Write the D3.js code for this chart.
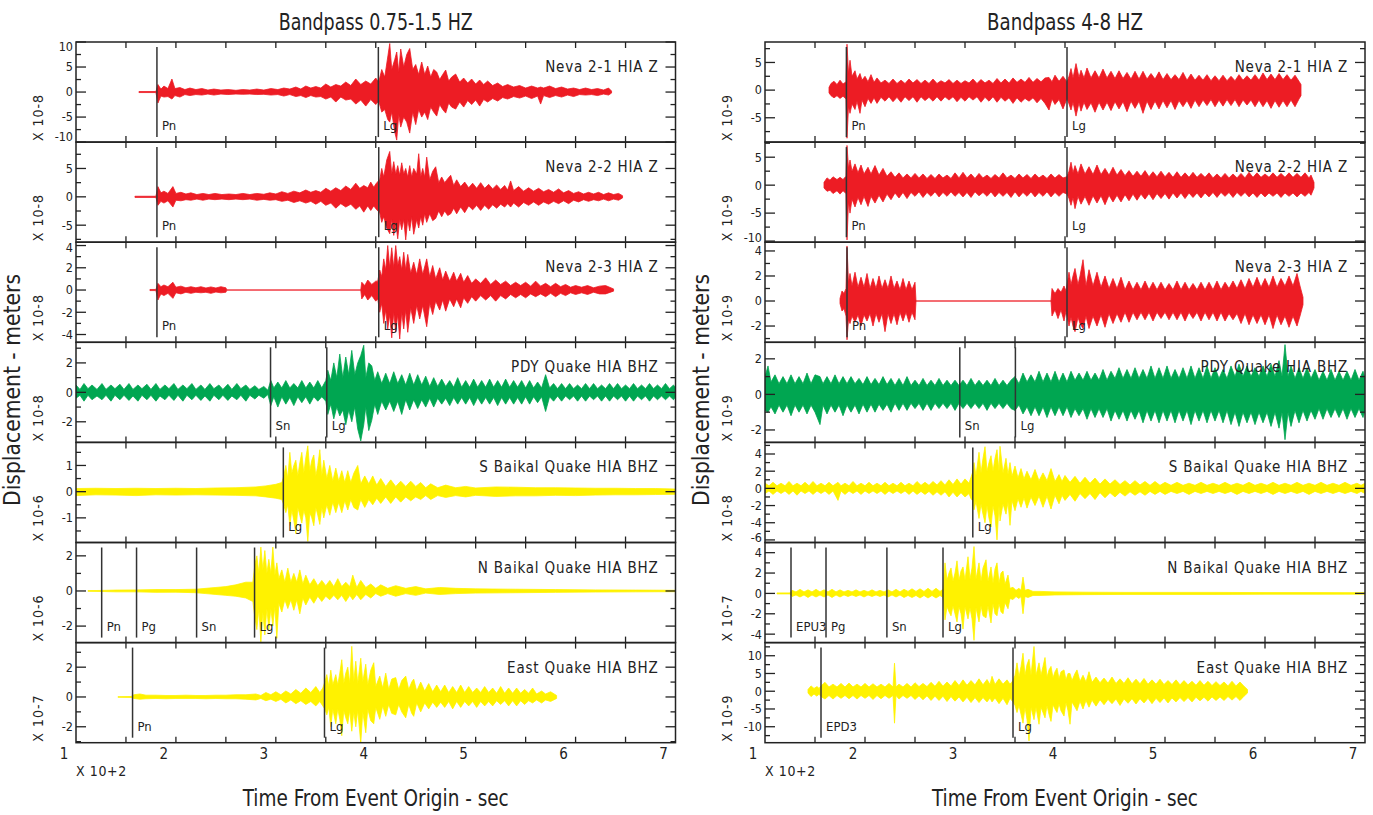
<!DOCTYPE html>
<html>
<head>
<meta charset="utf-8">
<script src="https://cdn.jsdelivr.net/npm/d3@7"></script>
<style>
    body { margin: 0; background: #fff; }
    text { font-family: "Liberation Sans Narrow", "DejaVu Sans Condensed", sans-serif; fill: #222; }
</style>
</head>
<body>
<svg id="chart" width="1373" height="815"></svg>
<script>
// ---- chart values ----
const bandTitles = ["Bandpass 0.75-1.5 HZ", "Bandpass 4-8 HZ"];
const xTitle = "Time From Event Origin - sec";
const yTitle = "Displacement  -  meters";
const xMultiplier = "X 10+2";
const timeDomain = [100, 700];
const timeLabels = [[100, "1"], [200, "2"], [300, "3"], [400, "4"], [500, "5"], [600, "6"], [700, "7"]];

const stationLabels = ["Neva 2-1 HIA Z", "Neva 2-2 HIA Z", "Neva 2-3 HIA Z", "PDY Quake HIA BHZ",
    "S Baikal Quake HIA BHZ", "N Baikal Quake HIA BHZ", "East Quake HIA BHZ"];
const stationKind = ["nuke", "nuke", "nuke", "pdy", "quake", "quake", "quake"];

const lowExponents = ["10-8", "10-8", "10-8", "10-8", "10-6", "10-6", "10-7"];
const highExponents = ["10-9", "10-9", "10-9", "10-9", "10-8", "10-7", "10-9"];
const lowDomains = [[-10, 10], [-8, 9.65], [-4.7, 4.3], [-3.4, 3.4], [-1.94, 1.88], [-2.94, 2.76], [-3.07, 3.65]];
const highDomains = [[-9.4, 8.7], [-10.2, 7.7], [-3.3, 4.7], [-2.7, 2.93], [-6.3, 5.35], [-4.83, 5.0], [-14.5, 13.7]];
const lowTickSteps = [5, 5, 2, 2, 1, 2, 2];
const highTickSteps = [5, 5, 2, 2, 2, 2, 5];

const lowPhases = [
    [["Pn", 181], ["Lg", 402.6]],
    [["Pn", 181], ["Lg", 403]],
    [["Pn", 181], ["Lg", 403]],
    [["Sn", 294.7], ["Lg", 351]],
    [["Lg", 307.5]],
    [["Pn", 125.7], ["Pg", 160.6], ["Sn", 220.7], ["Lg", 278.7]],
    [["Pn", 156.6], ["Lg", 348.7]]
];
const highPhases = [
    [["Pn", 181.4], ["Lg", 402]],
    [["Pn", 181.4], ["Lg", 402]],
    [["Pn", 182], ["Lg", 402]],
    [["Sn", 294.8], ["Lg", 350.4]],
    [["Lg", 307.8]],
    [["EPU3", 126], ["Pg", 161], ["Sn", 221.9], ["Lg", 278]],
    [["EPD3", 156], ["Lg", 348]]
];

// traces: [time sec, upper peak, lower peak] in the panel's units
const neva21Low = [[163,0.1,-0.1],[180,0.1,-0.1],[182,1.5,-2.2],[185,0.6,-0.8],[188,1.2,-1.0],[192,0.7,-0.9],[196,2.6,-1.4],[199,0.7,-0.7],[204,0.9,-1.0],[209,0.5,-0.5],[214,0.8,-0.7],[220,0.5,-0.5],[226,0.7,-0.6],[232,0.4,-0.4],[238,0.6,-0.6],[245,0.4,-0.4],[252,0.5,-0.5],[260,0.35,-0.4],[267,0.5,-0.45],[274,0.4,-0.4],[281,0.6,-0.5],[288,0.4,-0.45],[295,0.7,-0.6],[302,0.5,-0.5],[308,0.8,-0.8],[314,0.6,-0.5],[320,1.0,-0.9],[325,0.6,-0.7],[330,1.2,-1.1],[335,0.8,-0.7],[340,1.1,-1.0],[345,0.8,-0.9],[350,1.6,-1.4],[355,1.0,-1.0],[360,1.5,-2.0],[365,1.2,-1.0],[370,2.0,-1.6],[375,1.3,-1.4],[380,2.6,-2.4],[385,1.5,-1.6],[390,2.2,-2.8],[395,1.6,-1.5],[400,2.8,-2.5],[403,2.0,-1.8],[406,4.5,-4.0],[409,3.0,-3.5],[412,7.0,-5.5],[414,9.7,-6.0],[416,4.5,-4.0],[419,6.5,-8.0],[421,8.0,-9.6],[423,4.0,-4.5],[425,8.6,-7.0],[428,5.0,-5.0],[431,7.5,-6.0],[434,8.7,-8.2],[437,4.5,-4.0],[440,5.5,-6.5],[443,3.5,-3.5],[446,6.0,-5.0],[449,3.5,-4.0],[452,5.2,-5.5],[455,3.0,-3.0],[458,4.5,-4.0],[461,4.0,-4.8],[464,2.5,-2.5],[467,3.5,-3.5],[470,4.4,-4.2],[473,2.2,-2.2],[476,3.0,-3.0],[480,3.6,-3.4],[484,2.0,-2.0],[488,2.8,-3.0],[492,1.8,-1.7],[496,2.6,-2.5],[500,1.6,-1.6],[504,2.4,-2.8],[508,1.5,-1.5],[512,2.2,-2.0],[517,1.3,-1.3],[522,1.8,-1.8],[527,1.1,-1.1],[532,1.5,-1.4],[538,1.0,-0.9],[544,1.3,-1.2],[550,0.8,-0.8],[556,1.2,-1.3],[562,0.8,-0.8],[565,1.0,-2.4],[568,0.8,-0.7],[574,1.2,-1.1],[580,0.7,-0.7],[586,1.0,-1.0],[592,0.6,-0.6],[598,0.8,-0.9],[604,0.5,-0.5],[610,0.8,-0.6],[616,0.5,-0.5],[622,0.7,-0.7],[628,0.4,-0.4],[633,0.8,-0.6],[636,0.2,-0.2]];
const neva22Low = [[159,0.1,-0.1],[180,0.1,-0.1],[182,1.8,-1.5],[185,0.7,-0.8],[188,1.0,-1.1],[192,0.6,-0.7],[197,1.8,-1.8],[200,0.6,-0.6],[205,0.8,-0.7],[210,0.5,-0.5],[215,0.7,-0.6],[221,0.4,-0.4],[227,0.6,-0.6],[233,0.4,-0.4],[239,0.6,-0.5],[246,0.4,-0.4],[253,0.5,-0.5],[260,0.4,-0.4],[267,0.6,-0.5],[274,0.4,-0.4],[281,0.6,-0.6],[288,0.45,-0.45],[294,0.7,-0.6],[300,0.5,-0.5],[306,0.9,-0.8],[312,0.6,-0.6],[318,1.0,-1.0],[324,0.7,-0.7],[330,1.2,-1.1],[335,0.8,-0.8],[340,1.1,-1.3],[345,0.8,-0.8],[350,1.5,-1.5],[355,1.0,-1.1],[360,1.6,-2.0],[365,1.1,-1.2],[370,1.9,-1.8],[375,1.3,-1.3],[380,2.4,-2.2],[384,1.5,-1.6],[388,2.0,-2.7],[392,1.6,-1.6],[395,2.6,-2.4],[398,1.7,-1.6],[401,2.5,-2.3],[404,3.0,-2.8],[406,5.0,-4.5],[408,3.5,-3.5],[411,6.5,-5.5],[414,8.0,-6.5],[416,4.0,-4.0],[418,6.2,-6.8],[420,4.0,-4.5],[422,5.5,-7.4],[424,3.8,-4.0],[426,6.0,-5.8],[428,4.0,-4.0],[430,5.0,-7.6],[432,3.5,-4.0],[434,5.5,-6.0],[436,3.5,-3.5],[438,5.0,-6.6],[441,4.0,-4.0],[443,7.6,-5.5],[445,3.5,-3.5],[447,5.0,-5.0],[449,3.5,-3.0],[451,7.0,-4.5],[454,3.0,-3.0],[457,4.5,-4.2],[460,5.3,-3.8],[463,2.5,-2.5],[466,3.5,-3.5],[469,2.5,-2.5],[472,3.2,-3.3],[475,3.8,-3.0],[478,2.0,-2.0],[481,3.0,-3.0],[485,1.8,-1.8],[489,2.6,-2.8],[493,1.6,-1.6],[497,2.4,-2.3],[501,1.5,-1.5],[505,2.5,-2.4],[509,1.5,-1.5],[513,2.2,-2.2],[517,1.4,-1.4],[521,2.1,-2.0],[525,1.3,-1.3],[529,2.0,-1.8],[532,1.2,-1.2],[535,2.8,-1.8],[538,1.1,-1.1],[543,1.8,-1.8],[548,1.0,-1.0],[553,1.6,-1.5],[558,1.0,-0.9],[563,1.5,-1.5],[568,0.9,-0.9],[573,1.3,-1.3],[578,0.8,-0.8],[583,1.4,-1.2],[588,0.7,-0.7],[593,1.1,-1.2],[598,0.6,-0.6],[603,0.9,-0.9],[608,0.5,-0.5],[613,0.8,-0.8],[618,0.5,-0.5],[623,0.8,-0.7],[628,0.4,-0.4],[633,0.7,-0.7],[638,0.4,-0.4],[643,0.6,-0.6],[647,0.2,-0.2]];
const neva23Low = [[174,0.05,-0.05],[180,0.05,-0.05],[182,0.6,-0.9],[185,0.3,-0.35],[188,0.45,-0.5],[192,0.3,-0.3],[197,0.7,-0.75],[200,0.25,-0.25],[205,0.35,-0.35],[210,0.2,-0.2],[215,0.3,-0.3],[220,0.2,-0.2],[225,0.3,-0.25],[230,0.18,-0.2],[235,0.28,-0.3],[240,0.18,-0.18],[245,0.3,-0.25],[250,0.2,-0.2],[251,0,0],[385,0,0],[386,0.7,-0.8],[389,0.4,-0.4],[392,0.9,-0.9],[396,0.5,-0.5],[400,0.8,-1.0],[402,0.8,-0.8],[404,1.8,-2.0],[406,1.2,-1.2],[408,2.8,-3.0],[410,1.8,-1.8],[412,4.0,-3.5],[414,2.0,-2.2],[416,3.8,-4.3],[418,2.0,-2.0],[420,4.0,-3.8],[422,2.2,-2.2],[424,3.0,-4.4],[426,1.8,-2.0],[428,3.4,-3.5],[430,1.8,-1.8],[432,3.2,-3.8],[435,1.5,-1.6],[438,2.5,-3.0],[441,1.4,-1.4],[444,2.8,-2.6],[447,1.4,-1.4],[451,2.8,-3.3],[454,1.2,-1.2],[457,2.2,-2.2],[460,1.0,-1.0],[464,2.0,-1.8],[467,0.9,-0.9],[470,1.7,-1.9],[474,0.8,-0.8],[478,1.6,-1.5],[481,0.8,-0.8],[485,1.5,-1.6],[488,0.7,-0.7],[492,1.3,-1.2],[496,0.6,-0.6],[500,1.0,-1.0],[505,0.6,-0.5],[510,1.1,-0.9],[515,0.5,-0.5],[520,0.9,-1.0],[525,0.5,-0.5],[530,0.8,-0.8],[535,0.4,-0.4],[540,0.7,-0.7],[545,0.4,-0.4],[550,0.7,-0.7],[555,0.35,-0.35],[560,0.8,-0.6],[565,0.35,-0.35],[570,0.6,-0.6],[575,0.3,-0.3],[580,0.6,-0.6],[585,0.3,-0.3],[590,0.5,-0.5],[595,0.25,-0.25],[600,0.4,-0.4],[606,0.25,-0.25],[612,0.4,-0.4],[618,0.2,-0.2],[624,0.35,-0.35],[630,0.4,-0.35],[638,0.1,-0.1]];
const pdyLow = [[100,0.5,-0.4],[104,0.2,-0.2],[108,0.6,-0.6],[112,0.25,-0.2],[116,0.5,-0.5],[121,0.2,-0.25],[126,0.6,-0.5],[130,0.2,-0.2],[135,0.5,-0.6],[139,0.25,-0.2],[144,0.55,-0.5],[148,0.2,-0.2],[153,0.6,-0.55],[157,0.2,-0.25],[162,0.5,-0.6],[166,0.25,-0.2],[171,0.55,-0.5],[175,0.2,-0.2],[180,0.6,-0.6],[184,0.2,-0.25],[189,0.5,-0.5],[193,0.25,-0.2],[198,0.6,-0.55],[202,0.2,-0.2],[207,0.5,-0.6],[211,0.25,-0.2],[216,0.6,-0.5],[220,0.2,-0.2],[225,0.5,-0.55],[229,0.2,-0.25],[234,0.6,-0.6],[238,0.25,-0.2],[243,0.5,-0.5],[247,0.2,-0.2],[252,0.55,-0.55],[256,0.2,-0.25],[261,0.6,-0.5],[265,0.25,-0.2],[270,0.5,-0.6],[274,0.2,-0.2],[279,0.45,-0.45],[283,0.2,-0.2],[288,0.4,-0.4],[292,0.15,-0.15],[295,0.8,-0.9],[298,0.3,-0.3],[302,0.7,-1.0],[306,0.3,-0.3],[310,0.8,-0.8],[314,0.3,-0.35],[318,0.6,-0.9],[322,0.3,-0.3],[326,0.8,-0.7],[330,0.3,-0.3],[334,0.7,-0.8],[338,0.3,-0.3],[342,0.8,-0.6],[346,0.3,-0.3],[350,0.8,-0.6],[352,1.5,-1.5],[355,0.8,-0.8],[358,2.0,-1.8],[361,1.0,-1.0],[364,2.6,-1.6],[367,1.0,-1.2],[370,2.4,-2.2],[373,1.2,-1.2],[376,2.85,-2.0],[379,1.2,-1.0],[382,2.0,-2.5],[385,2.5,-3.3],[388,3.2,-2.2],[390,1.0,-1.0],[393,2.0,-2.6],[396,1.8,-1.9],[399,0.8,-0.8],[402,1.4,-1.5],[406,0.6,-0.6],[410,1.3,-1.2],[414,0.6,-0.6],[418,1.4,-1.3],[422,0.6,-0.6],[426,1.2,-1.5],[430,0.5,-0.5],[434,1.3,-1.2],[438,0.5,-0.5],[442,1.2,-1.1],[446,0.5,-0.5],[450,1.1,-1.0],[454,0.4,-0.4],[458,1.0,-1.0],[462,0.4,-0.4],[466,0.9,-0.8],[470,0.4,-0.4],[474,0.8,-0.9],[478,0.35,-0.35],[482,1.0,-0.8],[486,0.35,-0.35],[490,0.8,-0.8],[494,0.35,-0.35],[498,0.9,-0.9],[502,0.35,-0.35],[506,0.8,-0.8],[510,0.35,-0.35],[514,0.9,-0.8],[518,0.35,-0.35],[522,0.8,-0.9],[526,0.35,-0.35],[530,0.9,-0.8],[534,0.35,-0.35],[538,0.8,-0.8],[542,0.35,-0.35],[546,0.8,-0.8],[550,0.3,-0.3],[554,0.8,-0.8],[558,0.3,-0.3],[562,0.7,-0.7],[566,0.3,-0.3],[570,1.2,-1.3],[574,0.3,-0.3],[578,0.6,-0.6],[582,0.25,-0.25],[586,0.6,-0.6],[590,0.25,-0.25],[594,0.6,-0.5],[598,0.25,-0.25],[602,0.5,-0.6],[606,0.25,-0.25],[610,0.6,-0.6],[614,0.25,-0.25],[618,0.6,-0.5],[622,0.25,-0.25],[626,0.5,-0.6],[630,0.25,-0.25],[634,0.6,-0.6],[638,0.25,-0.25],[642,0.6,-0.5],[646,0.25,-0.25],[650,0.5,-0.6],[654,0.25,-0.25],[658,0.6,-0.6],[662,0.25,-0.25],[666,0.5,-0.5],[670,0.25,-0.25],[674,0.6,-0.6],[678,0.25,-0.25],[682,0.5,-0.5],[686,0.25,-0.25],[690,0.6,-0.5],[694,0.25,-0.25],[698,0.5,-0.5],[700,0.3,-0.3]];
const sBaikalLow = [[100,0.12,-0.15],[120,0.13,-0.12],[140,0.12,-0.13],[160,0.13,-0.15],[180,0.12,-0.12],[200,0.13,-0.13],[220,0.12,-0.12],[240,0.14,-0.13],[260,0.15,-0.14],[280,0.18,-0.16],[290,0.22,-0.2],[300,0.28,-0.25],[306,0.35,-0.3],[308,0.6,-0.5],[310,1.0,-0.8],[312,0.5,-0.5],[314,1.5,-1.3],[316,0.7,-0.7],[318,1.0,-1.1],[320,1.2,-1.6],[322,0.6,-0.6],[324,1.1,-0.9],[326,1.5,-1.2],[328,0.7,-0.7],[330,1.3,-1.0],[332,1.75,-1.9],[334,0.8,-0.8],[336,1.2,-1.0],[338,1.4,-1.3],[340,0.6,-0.6],[342,1.0,-0.9],[344,1.6,-1.25],[346,0.6,-0.6],[348,1.2,-1.0],[351,0.5,-0.5],[354,1.0,-0.9],[357,0.4,-0.4],[360,0.9,-0.8],[363,0.4,-0.4],[366,0.8,-0.8],[369,0.35,-0.35],[372,0.8,-0.7],[375,0.35,-0.3],[378,0.7,-0.6],[382,1.0,-0.7],[385,0.3,-0.3],[389,0.6,-0.6],[393,0.3,-0.3],[397,0.6,-0.5],[401,0.25,-0.25],[405,0.5,-0.45],[410,0.2,-0.2],[415,0.45,-0.45],[420,0.2,-0.2],[425,0.4,-0.4],[430,0.2,-0.2],[435,0.4,-0.35],[440,0.2,-0.2],[445,0.35,-0.3],[450,0.15,-0.15],[455,0.3,-0.3],[462,0.15,-0.15],[470,0.25,-0.22],[480,0.15,-0.15],[490,0.2,-0.2],[500,0.14,-0.14],[520,0.18,-0.18],[540,0.17,-0.16],[560,0.15,-0.16],[580,0.15,-0.14],[600,0.14,-0.15],[620,0.13,-0.13],[640,0.13,-0.12],[660,0.12,-0.12],[680,0.12,-0.11],[700,0.1,-0.1]];
const nBaikalLow = [[112,0.02,-0.02],[125,0.03,-0.03],[140,0.05,-0.05],[160,0.06,-0.05],[180,0.08,-0.08],[200,0.08,-0.07],[220,0.1,-0.1],[230,0.15,-0.15],[240,0.2,-0.2],[250,0.25,-0.25],[260,0.35,-0.3],[270,0.5,-0.4],[277,0.5,-0.6],[279,1.5,-1.5],[281,2.0,-2.2],[283,1.0,-1.0],[285,2.5,-2.9],[287,1.2,-1.2],[289,2.3,-2.5],[291,1.0,-1.0],[293,1.8,-2.2],[295,1.0,-1.0],[297,2.5,-2.0],[299,0.9,-0.9],[301,1.6,-2.7],[303,0.7,-0.7],[306,1.2,-1.2],[309,0.5,-0.5],[312,1.3,-1.0],[315,0.5,-0.5],[318,1.0,-1.1],[321,0.5,-0.5],[324,1.2,-1.3],[327,0.4,-0.4],[330,0.9,-0.8],[334,0.35,-0.35],[338,0.7,-0.7],[342,0.3,-0.3],[346,0.6,-0.6],[350,0.3,-0.3],[354,0.6,-0.5],[358,0.25,-0.25],[362,0.7,-0.5],[366,0.25,-0.25],[370,0.5,-0.6],[374,0.25,-0.25],[377,0.9,-0.5],[381,0.2,-0.2],[385,0.6,-0.5],[390,0.2,-0.2],[395,0.4,-0.4],[400,0.15,-0.15],[405,0.35,-0.3],[412,0.15,-0.15],[420,0.3,-0.3],[430,0.15,-0.15],[440,0.25,-0.25],[450,0.12,-0.12],[464,0.2,-0.2],[480,0.15,-0.15],[500,0.12,-0.12],[540,0.1,-0.1],[580,0.08,-0.08],[620,0.06,-0.06],[660,0.05,-0.05],[700,0.04,-0.04]];
const eastLow = [[142,0.02,-0.02],[155,0.03,-0.03],[158,0.15,-0.1],[164,0.2,-0.15],[170,0.12,-0.12],[180,0.12,-0.1],[190,0.1,-0.12],[200,0.1,-0.1],[210,0.12,-0.1],[220,0.1,-0.1],[230,0.1,-0.12],[240,0.12,-0.1],[250,0.12,-0.12],[260,0.15,-0.12],[270,0.15,-0.15],[280,0.2,-0.2],[285,0.1,-0.1],[290,0.3,-0.25],[295,0.15,-0.15],[300,0.35,-0.3],[305,0.15,-0.15],[310,0.4,-0.4],[315,0.2,-0.2],[320,0.5,-0.45],[325,0.25,-0.25],[330,0.6,-0.5],[335,0.3,-0.3],[340,0.7,-0.6],[344,0.3,-0.3],[347,0.6,-0.6],[349,1.0,-0.8],[351,1.5,-1.2],[353,0.7,-0.7],[355,1.8,-2.0],[357,0.8,-0.8],[360,1.5,-1.8],[362,0.8,-0.8],[364,1.6,-1.5],[366,2.5,-2.6],[368,0.9,-0.9],[370,1.6,-1.4],[372,2.0,-1.8],[374,0.9,-0.9],[376,3.4,-2.3],[378,1.0,-1.0],[380,2.4,-2.0],[382,0.9,-0.9],[385,2.6,-3.1],[387,1.0,-1.0],[390,2.2,-2.4],[392,0.8,-0.8],[395,1.8,-1.6],[398,2.3,-1.8],[400,0.7,-0.7],[404,1.4,-1.5],[407,0.6,-0.6],[410,1.6,-1.3],[413,0.5,-0.5],[416,1.2,-1.1],[420,1.3,-1.2],[423,0.5,-0.5],[426,1.1,-1.0],[430,1.4,-1.4],[433,0.5,-0.5],[436,1.0,-1.1],[438,1.2,-1.3],[441,0.4,-0.4],[445,1.0,-1.0],[449,0.4,-0.4],[453,0.9,-0.8],[457,0.35,-0.35],[461,0.8,-0.7],[465,0.35,-0.35],[469,0.8,-0.7],[473,0.3,-0.3],[477,0.7,-0.8],[481,0.3,-0.3],[485,0.8,-0.7],[489,0.3,-0.3],[493,0.7,-0.6],[497,0.3,-0.3],[501,0.6,-0.7],[505,0.3,-0.3],[509,0.7,-0.6],[513,0.3,-0.3],[517,0.6,-0.6],[521,0.25,-0.25],[525,0.7,-0.5],[529,0.25,-0.25],[533,0.6,-0.6],[537,0.25,-0.25],[541,0.6,-0.6],[545,0.25,-0.25],[549,0.5,-0.5],[553,0.25,-0.25],[557,0.6,-0.4],[561,0.2,-0.2],[566,0.4,-0.4],[570,0.2,-0.2],[575,0.35,-0.3],[581,0.1,-0.1]];

const neva21High = [[164,0.5,-0.5],[166,1.2,-1.0],[169,1.6,-1.4],[172,1.0,-1.0],[175,1.8,-1.5],[178,1.1,-1.1],[181,1.5,-1.6],[182,8.3,-8.7],[183.5,3.0,-3.0],[185,5.4,-4.2],[187,2.5,-2.5],[190,3.5,-3.5],[192,2.0,-2.0],[195,3.0,-4.2],[197,1.8,-1.8],[200,2.5,-3.0],[203,1.5,-1.5],[206,2.8,-2.4],[209,1.4,-1.4],[212,2.2,-2.4],[216,1.3,-1.3],[220,1.8,-2.0],[224,1.2,-1.2],[228,2.0,-2.1],[232,1.2,-1.3],[236,1.8,-2.2],[240,1.2,-1.2],[244,2.0,-1.9],[248,1.3,-1.2],[252,1.9,-2.2],[256,1.2,-1.2],[260,1.8,-1.9],[264,1.2,-1.3],[268,2.0,-2.0],[272,1.2,-1.2],[276,1.7,-2.0],[280,1.3,-1.2],[284,1.9,-1.8],[288,1.2,-1.2],[292,1.8,-2.1],[296,1.2,-1.3],[300,1.7,-2.0],[304,1.3,-1.2],[308,2.0,-1.8],[312,1.2,-1.2],[316,1.9,-2.2],[320,1.3,-1.3],[324,1.8,-2.0],[328,1.2,-1.2],[332,2.1,-2.2],[336,1.3,-1.3],[340,2.0,-2.0],[344,1.3,-1.4],[348,2.2,-2.4],[352,1.4,-1.4],[356,2.0,-2.2],[360,1.4,-1.5],[364,2.3,-2.0],[368,1.4,-1.4],[372,2.1,-2.3],[376,1.5,-1.5],[380,2.2,-2.4],[384,2.3,-3.6],[387,1.5,-1.6],[390,2.7,-2.6],[394,1.6,-1.7],[398,2.5,-3.4],[402,1.5,-1.5],[404,2.5,-2.5],[406,3.9,-3.6],[408,2.2,-2.2],[411,4.8,-4.7],[414,2.3,-2.3],[416,3.6,-3.8],[419,2.2,-2.2],[422,4.0,-3.5],[426,2.2,-2.3],[430,3.5,-4.0],[434,2.2,-2.2],[438,3.8,-3.6],[442,2.2,-2.2],[446,3.4,-3.7],[450,2.1,-2.1],[454,3.5,-3.4],[458,2.1,-2.1],[462,3.2,-3.9],[466,2.0,-2.0],[470,3.4,-3.3],[474,2.0,-2.0],[478,3.4,-4.2],[482,2.0,-2.0],[486,3.0,-3.5],[490,2.0,-2.0],[494,3.3,-3.4],[498,1.9,-1.9],[502,3.0,-3.2],[506,1.9,-1.9],[510,2.8,-3.5],[514,1.9,-1.9],[518,3.2,-3.0],[522,1.8,-1.9],[526,2.9,-3.3],[530,1.8,-1.8],[534,2.7,-3.0],[538,1.8,-1.8],[542,2.8,-2.8],[546,1.7,-1.7],[550,2.6,-3.0],[554,1.7,-1.8],[558,2.7,-2.9],[562,1.7,-1.7],[566,2.5,-2.8],[570,1.7,-1.7],[574,2.8,-3.0],[578,1.8,-1.8],[582,2.6,-2.7],[586,1.8,-1.8],[590,2.8,-3.0],[594,1.8,-1.8],[598,3.1,-3.0],[602,1.9,-1.9],[606,2.9,-3.3],[610,1.9,-1.9],[614,3.0,-3.1],[618,1.9,-1.9],[622,2.8,-3.0],[626,1.8,-1.8],[630,2.7,-3.0],[634,1.6,-1.6],[636,1.0,-1.0]];
const neva22High = [[159,0.5,-0.5],[162,1.3,-1.1],[165,0.9,-0.9],[168,1.5,-1.5],[172,1.0,-1.0],[175,1.4,-1.6],[178,1.0,-1.0],[181,1.6,-1.5],[182,7.1,-9.8],[183.5,3.0,-3.0],[185,4.5,-5.0],[187,2.5,-2.5],[190,3.8,-3.9],[193,2.2,-2.2],[196,3.6,-3.5],[199,2.0,-2.0],[203,3.2,-3.8],[206,2.0,-2.0],[210,3.5,-3.2],[214,1.8,-1.8],[218,3.0,-3.0],[222,1.6,-1.6],[226,2.4,-2.6],[230,1.4,-1.4],[234,2.2,-2.3],[238,1.3,-1.3],[242,2.0,-2.4],[246,1.3,-1.3],[250,2.1,-2.0],[254,1.3,-1.2],[258,2.0,-2.2],[262,1.2,-1.3],[266,1.9,-2.0],[270,1.2,-1.2],[274,2.0,-2.1],[278,1.3,-1.3],[282,1.8,-2.0],[286,1.2,-1.2],[290,2.2,-2.0],[294,1.3,-1.3],[298,2.3,-2.1],[302,1.3,-1.3],[306,2.0,-2.2],[310,1.2,-1.2],[314,2.1,-1.9],[318,1.3,-1.3],[322,1.8,-2.0],[326,1.2,-1.2],[330,1.9,-2.1],[334,1.3,-1.3],[338,2.2,-2.0],[342,1.3,-1.3],[346,1.8,-2.2],[350,1.2,-1.2],[354,2.0,-2.1],[358,1.3,-1.3],[362,1.9,-2.0],[366,1.2,-1.2],[370,2.0,-2.1],[374,1.3,-1.3],[378,1.8,-2.0],[382,1.2,-1.2],[386,2.0,-2.1],[390,1.3,-1.3],[394,1.9,-2.0],[398,1.3,-1.3],[402,1.5,-1.6],[404,2.5,-2.4],[406,4.1,-3.6],[408,2.2,-2.2],[410,3.5,-4.2],[413,2.0,-2.0],[416,3.8,-3.4],[420,2.0,-2.0],[424,3.3,-3.6],[428,1.9,-1.9],[432,3.6,-3.2],[436,1.9,-1.9],[440,3.0,-3.5],[444,1.8,-1.8],[448,3.2,-3.0],[452,1.8,-1.8],[456,2.8,-3.0],[460,1.7,-1.7],[464,2.6,-2.8],[468,1.6,-1.6],[472,2.5,-2.7],[476,1.6,-1.6],[480,2.6,-2.5],[484,1.5,-1.5],[488,2.4,-2.6],[492,1.5,-1.5],[496,2.5,-2.4],[500,1.5,-1.5],[504,2.3,-2.5],[508,1.4,-1.4],[512,2.4,-2.3],[516,1.4,-1.4],[520,2.2,-2.4],[524,1.4,-1.4],[528,2.3,-2.2],[532,1.4,-1.4],[536,2.1,-2.3],[540,1.4,-1.4],[544,2.2,-2.1],[548,1.3,-1.3],[552,2.0,-2.2],[556,1.3,-1.3],[560,2.1,-2.0],[564,1.3,-1.3],[568,2.0,-2.2],[572,1.3,-1.3],[576,2.1,-2.0],[580,1.3,-1.3],[584,2.3,-2.1],[588,1.4,-1.4],[592,2.2,-2.2],[596,1.4,-1.4],[600,2.0,-2.1],[604,1.4,-1.4],[608,2.2,-2.0],[612,1.4,-1.4],[616,2.1,-2.2],[620,1.4,-1.4],[624,2.2,-2.0],[628,1.4,-1.4],[632,2.1,-2.1],[636,1.4,-1.4],[640,2.2,-2.0],[644,1.3,-1.3],[646,1.8,-1.8],[649,0.5,-0.5]];
const neva23High = [[175,0.2,-0.2],[177,0.8,-0.8],[179,0.6,-0.6],[181,1.0,-1.2],[182,4.4,-3.1],[183.5,1.5,-1.5],[185,2.2,-1.8],[187,1.2,-1.2],[190,2.3,-1.7],[193,1.1,-1.1],[196,1.9,-2.0],[199,1.1,-1.1],[202,2.2,-1.6],[205,1.0,-1.0],[208,1.8,-2.0],[211,1.0,-1.0],[214,2.0,-1.7],[217,1.0,-1.0],[220,1.7,-2.45],[223,1.0,-1.0],[226,2.0,-1.8],[229,1.0,-1.0],[232,1.6,-1.9],[235,0.9,-0.9],[238,1.8,-1.6],[241,0.9,-0.9],[244,1.6,-1.7],[247,0.9,-0.9],[250,1.5,-1.5],[251,0,0],[386,0,0],[387,1.0,-1.2],[390,0.6,-0.7],[393,1.0,-1.4],[396,0.7,-0.7],[399,1.2,-1.6],[401,0.8,-0.8],[404,2.3,-2.0],[406,1.3,-1.3],[408,2.0,-2.0],[410,2.6,-2.45],[413,1.3,-1.3],[415,2.0,-1.8],[418,3.3,-2.2],[421,1.2,-1.2],[424,2.5,-2.2],[428,1.2,-1.2],[432,2.3,-2.0],[436,1.1,-1.1],[440,2.0,-2.1],[444,1.0,-1.0],[448,1.8,-1.8],[452,1.0,-1.0],[456,1.9,-1.7],[460,0.9,-0.9],[464,1.6,-1.7],[468,0.9,-0.9],[472,1.5,-1.5],[476,0.9,-0.9],[480,1.6,-1.5],[484,0.9,-0.9],[488,1.5,-1.6],[492,0.9,-0.9],[496,1.5,-1.4],[500,0.9,-0.9],[504,1.4,-1.5],[508,0.9,-0.9],[512,1.6,-1.5],[516,0.9,-0.9],[520,1.5,-1.6],[524,0.9,-0.9],[528,1.4,-1.4],[532,0.9,-0.9],[536,1.5,-1.6],[540,0.9,-0.9],[544,1.5,-1.5],[548,0.9,-0.9],[552,1.6,-1.6],[556,0.9,-0.9],[560,1.5,-1.6],[564,1.0,-1.0],[568,1.6,-1.5],[572,1.0,-1.0],[576,1.7,-1.8],[580,1.0,-1.0],[584,1.8,-1.9],[588,1.1,-1.1],[592,1.9,-1.8],[596,1.1,-1.1],[600,1.8,-1.9],[604,1.1,-1.1],[608,2.0,-2.2],[612,1.1,-1.1],[616,1.8,-1.9],[620,1.2,-1.2],[624,2.0,-2.1],[628,1.2,-1.2],[632,2.2,-2.0],[635,1.2,-1.2],[638,0.3,-0.3]];
const pdyHigh = [[100,1.0,-0.9],[103,1.6,-1.0],[106,0.7,-0.7],[110,1.1,-1.1],[114,0.6,-0.6],[118,1.0,-1.0],[122,0.6,-0.6],[126,1.1,-1.2],[130,0.6,-0.6],[134,1.0,-1.0],[138,0.6,-0.6],[142,1.2,-1.1],[146,0.6,-0.6],[150,1.1,-1.0],[155,1.0,-1.7],[158,0.6,-0.6],[162,1.0,-1.1],[166,0.6,-0.6],[170,1.1,-1.0],[174,0.6,-0.6],[178,1.0,-1.2],[182,0.6,-0.6],[186,1.0,-1.0],[190,0.6,-0.6],[194,0.9,-1.1],[198,0.55,-0.55],[202,1.0,-1.0],[206,0.55,-0.55],[210,0.9,-1.0],[214,0.55,-0.55],[218,1.0,-0.9],[222,0.55,-0.55],[226,0.9,-1.0],[230,0.5,-0.5],[234,0.9,-0.9],[238,0.5,-0.5],[242,1.0,-0.9],[246,0.5,-0.5],[250,0.8,-0.8],[254,0.5,-0.5],[258,0.9,-0.9],[262,0.5,-0.5],[266,0.8,-0.9],[270,0.5,-0.5],[274,0.9,-0.8],[278,0.5,-0.5],[282,0.8,-0.8],[286,0.5,-0.5],[290,0.8,-0.9],[294,0.5,-0.5],[298,0.8,-0.8],[302,0.5,-0.5],[306,0.9,-0.8],[310,0.5,-0.5],[314,0.8,-0.8],[318,0.5,-0.5],[322,0.8,-0.9],[326,0.5,-0.5],[330,0.9,-0.8],[334,0.5,-0.5],[338,0.8,-0.8],[342,0.5,-0.5],[346,0.8,-0.8],[350,1.0,-0.9],[354,0.6,-0.6],[358,1.2,-1.1],[362,0.7,-0.7],[366,1.1,-1.2],[370,0.7,-0.7],[374,1.3,-1.2],[378,0.7,-0.7],[382,1.2,-1.3],[386,0.7,-0.7],[390,1.3,-1.2],[394,0.7,-0.7],[398,1.2,-1.2],[402,0.7,-0.7],[406,1.3,-1.3],[410,0.8,-0.8],[414,1.2,-1.2],[418,0.8,-0.8],[422,1.3,-1.4],[426,0.8,-0.8],[430,1.2,-1.3],[434,0.8,-0.8],[438,1.4,-1.3],[442,0.8,-0.8],[446,1.3,-1.5],[450,0.9,-0.9],[454,1.5,-1.4],[458,0.9,-0.9],[462,1.4,-1.5],[466,0.9,-0.9],[470,1.5,-1.4],[474,0.9,-0.9],[478,1.4,-1.6],[482,0.9,-0.9],[486,1.6,-1.5],[490,0.9,-0.9],[494,1.5,-1.6],[498,0.9,-0.9],[502,1.6,-1.5],[506,0.9,-0.9],[510,1.4,-1.6],[514,0.9,-0.9],[518,1.5,-1.5],[522,0.9,-0.9],[526,1.6,-1.7],[530,0.9,-0.9],[534,1.5,-1.5],[538,0.9,-0.9],[542,1.6,-1.6],[546,0.9,-0.9],[550,1.5,-1.5],[554,0.9,-0.9],[558,1.4,-1.6],[562,0.9,-0.9],[566,1.6,-1.7],[570,1.0,-1.0],[574,1.7,-1.8],[578,1.0,-1.0],[582,1.6,-1.6],[586,1.0,-1.0],[590,1.5,-1.7],[594,1.0,-1.0],[598,1.6,-1.6],[602,1.0,-1.0],[606,1.7,-1.8],[610,1.0,-1.0],[614,1.9,-1.9],[617,1.0,-1.0],[620,2.8,-2.55],[623,1.0,-1.0],[626,1.6,-1.8],[630,0.9,-0.9],[634,1.5,-1.6],[638,0.9,-0.9],[642,1.5,-1.5],[646,0.9,-0.9],[650,1.4,-1.4],[654,0.8,-0.8],[658,1.3,-1.4],[662,0.8,-0.8],[666,1.4,-1.3],[670,0.8,-0.8],[674,1.3,-1.3],[678,0.8,-0.8],[682,1.3,-1.4],[686,0.8,-0.8],[690,1.4,-1.3],[694,0.8,-0.8],[698,1.3,-1.3],[700,0.9,-0.9]];
const sBaikalHigh = [[100,0.6,-0.6],[104,0.3,-0.3],[108,0.7,-0.7],[112,0.3,-0.3],[116,0.6,-0.6],[120,0.3,-0.3],[124,0.8,-0.7],[128,0.3,-0.3],[132,0.6,-0.8],[136,0.3,-0.3],[140,0.7,-0.6],[144,0.3,-0.3],[148,0.8,-0.7],[152,0.3,-0.3],[156,0.6,-0.6],[160,0.3,-0.3],[164,0.7,-0.7],[168,0.3,-0.3],[173,0.7,-1.4],[176,0.3,-0.3],[180,0.6,-0.7],[184,0.3,-0.3],[188,0.8,-0.6],[192,0.3,-0.3],[196,0.6,-0.7],[200,0.3,-0.3],[204,0.7,-0.6],[208,0.3,-0.3],[212,0.6,-0.6],[216,0.3,-0.3],[220,0.7,-0.7],[224,0.3,-0.3],[228,0.6,-0.6],[232,0.3,-0.3],[236,0.7,-0.6],[240,0.3,-0.3],[244,0.6,-0.7],[248,0.3,-0.3],[252,0.8,-0.7],[256,0.35,-0.35],[260,0.7,-0.7],[264,0.35,-0.35],[268,0.8,-0.8],[272,0.4,-0.4],[276,0.9,-0.8],[280,0.4,-0.4],[284,1.0,-1.0],[288,0.45,-0.45],[292,1.1,-1.0],[296,0.5,-0.5],[300,1.1,-1.0],[304,0.6,-0.6],[306,1.3,-1.2],[308,2.0,-1.5],[309,3.0,-2.5],[311,1.5,-1.5],[314,4.2,-3.5],[316,1.8,-1.8],[318,3.5,-3.0],[320,4.85,-4.0],[322,2.0,-2.0],[324,3.0,-3.5],[326,3.8,-4.5],[328,2.0,-2.0],[330,3.5,-3.2],[332,4.5,-6.0],[334,2.0,-2.0],[335,4.9,-3.8],[338,1.8,-1.8],[341,3.5,-3.0],[343,1.6,-1.6],[345,3.0,-4.3],[347,1.4,-1.4],[350,2.6,-2.6],[353,1.2,-1.2],[356,2.3,-2.2],[359,1.1,-1.1],[362,2.0,-2.3],[366,1.0,-1.0],[370,2.2,-2.0],[374,0.9,-0.9],[378,1.8,-2.2],[382,0.9,-0.9],[386,2.3,-2.4],[390,0.8,-0.8],[394,1.6,-1.8],[397,0.8,-0.8],[400,1.5,-1.4],[405,0.7,-0.7],[410,1.4,-1.5],[415,0.6,-0.6],[420,1.3,-1.2],[425,0.6,-0.6],[430,1.2,-1.3],[435,0.5,-0.5],[440,1.1,-1.1],[445,0.5,-0.5],[450,1.0,-1.0],[455,0.45,-0.45],[460,0.9,-0.9],[465,0.4,-0.4],[470,0.9,-0.8],[475,0.4,-0.4],[480,0.8,-0.8],[485,0.35,-0.35],[490,0.8,-0.7],[495,0.35,-0.35],[500,0.7,-0.7],[506,0.35,-0.35],[512,0.7,-0.6],[518,0.35,-0.35],[524,0.6,-0.7],[530,0.35,-0.35],[536,0.7,-0.6],[542,0.35,-0.35],[548,0.6,-0.6],[554,0.35,-0.35],[560,0.7,-0.6],[566,0.35,-0.35],[572,0.6,-0.7],[578,0.35,-0.35],[584,0.7,-0.6],[590,0.35,-0.35],[596,0.6,-0.6],[602,0.35,-0.35],[608,0.7,-0.7],[614,0.35,-0.35],[620,0.6,-0.6],[626,0.35,-0.35],[632,0.7,-0.6],[638,0.35,-0.35],[644,0.6,-0.7],[650,0.35,-0.35],[656,0.7,-0.6],[662,0.35,-0.35],[668,0.6,-0.6],[674,0.35,-0.35],[680,0.7,-0.6],[686,0.35,-0.35],[692,0.6,-0.6],[696,0.35,-0.35],[700,0.6,-0.6]];
const nBaikalHigh = [[112,0.05,-0.05],[125,0.05,-0.05],[127,0.3,-0.3],[131,0.15,-0.15],[135,0.4,-0.35],[139,0.15,-0.15],[143,0.35,-0.4],[147,0.15,-0.15],[151,0.4,-0.35],[155,0.15,-0.15],[159,0.35,-0.35],[163,0.15,-0.15],[167,0.4,-0.4],[171,0.15,-0.15],[175,0.35,-0.35],[179,0.15,-0.15],[183,0.3,-0.3],[187,0.15,-0.15],[191,0.35,-0.3],[195,0.15,-0.15],[199,0.3,-0.35],[203,0.15,-0.15],[207,0.35,-0.3],[211,0.15,-0.15],[215,0.3,-0.3],[219,0.15,-0.15],[223,0.35,-0.35],[227,0.15,-0.15],[231,0.4,-0.35],[235,0.15,-0.15],[239,0.4,-0.4],[243,0.2,-0.2],[247,0.45,-0.4],[251,0.2,-0.2],[255,0.45,-0.45],[259,0.2,-0.2],[263,0.5,-0.45],[267,0.2,-0.2],[271,0.5,-0.45],[275,0.2,-0.2],[278,0.4,-0.4],[280,3.0,-2.6],[282,1.3,-1.3],[284,2.0,-1.8],[286,2.5,-2.2],[288,1.2,-1.2],[290,2.0,-2.0],[292,3.2,-2.8],[294,1.3,-1.3],[296,2.2,-2.0],[298,2.6,-3.5],[300,1.3,-1.3],[303,3.6,-2.5],[305,1.4,-1.4],[307,2.5,-2.5],[309,4.6,-4.6],[311,1.4,-1.4],[314,3.0,-2.8],[316,1.2,-1.2],[318,2.5,-2.2],[321,3.3,-2.4],[323,1.2,-1.2],[326,2.6,-2.9],[328,1.0,-1.0],[330,2.4,-2.0],[332,3.0,-2.2],[334,1.0,-1.0],[336,2.0,-1.8],[338,2.2,-2.0],[340,0.9,-0.9],[343,1.8,-1.5],[345,0.5,-0.5],[348,0.6,-0.6],[351,0.3,-0.3],[354,0.5,-0.5],[356,0.3,-0.3],[358,1.6,-2.0],[360,0.3,-0.3],[363,0.4,-0.4],[368,0.2,-0.2],[375,0.2,-0.2],[390,0.15,-0.15],[420,0.12,-0.12],[460,0.1,-0.1],[500,0.1,-0.1],[550,0.1,-0.1],[600,0.08,-0.08],[650,0.08,-0.08],[700,0.07,-0.07]];
const eastHigh = [[143,0.5,-0.5],[146,1.5,-1.5],[149,0.8,-0.8],[152,1.3,-1.4],[154,0.8,-0.8],[156,1.5,-1.5],[160,2.5,-2.2],[164,1.2,-1.2],[168,2.0,-2.2],[172,1.2,-1.2],[176,2.2,-2.0],[180,1.2,-1.2],[184,2.3,-2.1],[188,1.2,-1.2],[192,2.0,-2.2],[196,1.2,-1.2],[200,2.2,-2.0],[204,1.2,-1.2],[208,2.1,-2.3],[212,1.2,-1.2],[216,2.0,-2.1],[220,1.2,-1.2],[224,2.2,-2.0],[228,1.2,-1.2],[229.5,7.9,-9.0],[231,1.2,-1.2],[234,2.0,-2.2],[238,1.2,-1.2],[242,2.2,-2.0],[246,1.2,-1.2],[250,2.4,-2.3],[254,1.3,-1.3],[258,2.2,-2.4],[262,1.3,-1.3],[266,2.5,-2.6],[270,1.4,-1.4],[274,2.8,-2.6],[278,1.4,-1.4],[282,2.6,-2.9],[286,1.5,-1.5],[290,3.0,-2.8],[294,1.6,-1.6],[298,3.2,-3.0],[302,1.7,-1.7],[306,3.0,-3.2],[310,1.8,-1.8],[314,3.5,-3.2],[318,1.8,-1.8],[322,3.3,-3.0],[325,1.9,-1.9],[327,4.2,-3.0],[330,1.9,-1.9],[334,3.5,-3.5],[338,2.0,-2.0],[342,3.2,-3.8],[345,2.0,-2.0],[348,3.0,-3.0],[350,4.5,-4.0],[352,8.0,-6.0],[354,4.0,-4.0],[356,7.0,-6.5],[358,10.7,-9.0],[360,4.5,-4.5],[362,7.5,-8.0],[364,9.0,-14.0],[366,4.5,-4.5],[369,12.6,-8.0],[371,4.5,-4.5],[374,8.0,-9.3],[376,4.5,-4.5],[378,7.0,-6.0],[380,9.5,-7.5],[382,4.0,-4.0],[384,6.0,-6.5],[386,7.0,-8.5],[388,3.8,-3.8],[390,5.5,-5.0],[392,6.5,-6.0],[394,3.5,-3.5],[396,5.5,-5.5],[399,6.0,-7.0],[401,3.2,-3.2],[403,5.0,-5.5],[405,5.0,-9.3],[407,3.0,-3.0],[410,5.0,-4.5],[412,6.0,-5.5],[415,2.8,-2.8],[418,4.5,-5.0],[421,2.6,-2.6],[424,5.5,-4.5],[427,2.5,-2.5],[431,4.0,-4.2],[435,2.4,-2.4],[439,3.7,-3.8],[443,2.3,-2.3],[447,4.0,-3.5],[451,2.2,-2.2],[455,3.5,-4.0],[459,2.2,-2.2],[463,3.8,-3.4],[467,2.1,-2.1],[471,3.4,-3.6],[475,2.1,-2.1],[479,3.6,-3.3],[483,2.0,-2.0],[487,3.2,-3.5],[491,2.0,-2.0],[495,3.4,-3.2],[499,1.9,-1.9],[503,3.0,-3.3],[507,1.9,-1.9],[511,3.2,-3.0],[515,1.8,-1.8],[519,3.0,-2.9],[523,1.8,-1.8],[527,2.8,-3.0],[531,1.7,-1.7],[535,3.0,-2.7],[539,1.7,-1.7],[543,2.8,-2.8],[547,1.6,-1.6],[551,2.7,-2.6],[555,1.6,-1.6],[559,2.6,-2.6],[563,1.5,-1.5],[567,2.8,-2.5],[571,1.5,-1.5],[575,2.6,-2.6],[579,1.4,-1.4],[582.5,0.5,-0.5]];

const lowTraces = [neva21Low, neva22Low, neva23Low, pdyLow, sBaikalLow, nBaikalLow, eastLow];
const highTraces = [neva21High, neva22High, neva23High, pdyHigh, sBaikalHigh, nBaikalHigh, eastHigh];

// ---- styling ----
const kindColor = {nuke: "#ed1c24", pdy: "#00a651", quake: "#fff200"};
const inkColor = "#222";
const panelTop = 42, panelH = 100.1;

const svg = d3.select("#chart");

let TracePanel = function ({scaleX, top, height, domain, step, exponent, label, color, trace, phases, id}) {
    let master = {};
    master.el = svg.append("g").attr("class", "tracePanel");
    const [x0, x1] = scaleX.range();
    const scaleY = d3.scaleLinear().domain(domain).range([top + height, top]);

    master.draw = () => {
        const g = master.el;
        g.append("clipPath").attr("id", "clip" + id)
            .append("rect").attr("x", x0).attr("y", top).attr("width", x1 - x0).attr("height", height);

        const area = d3.area()
            .x(d => scaleX(d[0]))
            .y0(d => scaleY(d[2]))
            .y1(d => scaleY(d[1]));
        g.append("path")
            .attr("clip-path", `url(#clip${id})`)
            .attr("d", area(trace))
            .attr("fill", color)
            .attr("stroke", color)
            .attr("stroke-width", 0.8)
            .attr("stroke-linejoin", "miter");

        // frame
        g.append("rect")
            .attr("x", x0).attr("y", top).attr("width", x1 - x0).attr("height", height)
            .attr("fill", "none").attr("stroke", inkColor).attr("stroke-width", 1.5);

        // time ticks, inward on top and bottom
        const tTicks = d3.range(150, timeDomain[1], 50);
        g.selectAll("line.tTop").data(tTicks).join("line")
            .attr("class", "tTop")
            .attr("x1", d => scaleX(d)).attr("x2", d => scaleX(d))
            .attr("y1", top).attr("y2", top + 6)
            .attr("stroke", inkColor).attr("stroke-width", 1.3);
        g.selectAll("line.tBot").data(tTicks).join("line")
            .attr("class", "tBot")
            .attr("x1", d => scaleX(d)).attr("x2", d => scaleX(d))
            .attr("y1", top + height).attr("y2", top + height - 6)
            .attr("stroke", inkColor).attr("stroke-width", 1.3);

        // amplitude ticks
        const major = d3.range(Math.ceil(domain[0] / step) * step, domain[1] + 1e-9, step);
        const minor = d3.range(Math.ceil(domain[0] / (step / 2)) * (step / 2), domain[1] + 1e-9, step / 2)
            .filter(v => Math.abs(Math.round(v / step) * step - v) > 1e-9);
        [[major, 10], [minor, 5]].forEach(([vals, len]) => {
            g.selectAll(null).data(vals).join("line")
                .attr("x1", x0).attr("x2", x0 + len)
                .attr("y1", d => scaleY(d)).attr("y2", d => scaleY(d))
                .attr("stroke", inkColor).attr("stroke-width", 1.3);
            g.selectAll(null).data(vals).join("line")
                .attr("x1", x1).attr("x2", x1 - len)
                .attr("y1", d => scaleY(d)).attr("y2", d => scaleY(d))
                .attr("stroke", inkColor).attr("stroke-width", 1.3);
        });
        // labels that sit on a panel edge are nudged inside so neighbours don't collide
        g.selectAll("text.yLab").data(major).join("text")
            .attr("class", "yLab")
            .attr("x", x0 - 3)
            .attr("y", d => Math.min(top + height - 5, Math.max(top + 5, scaleY(d))))
            .attr("dy", "0.35em")
            .attr("text-anchor", "end")
            .style("font-size", "12.5px")
            .text(d => String(+d.toFixed(2)));

        g.append("text")
            .attr("transform", `translate(${x0 - 33},${top + height - 1}) rotate(-90)`)
            .style("font-size", "14px")
            .style("letter-spacing", "1px")
            .text("X  " + exponent);

        // phase picks
        g.selectAll("line.phase").data(phases).join("line")
            .attr("class", "phase")
            .attr("x1", d => scaleX(d[1])).attr("x2", d => scaleX(d[1]))
            .attr("y1", top + 5).attr("y2", top + height - 5)
            .attr("stroke", "#333").attr("stroke-width", 1.5);
        g.selectAll("text.phase").data(phases).join("text")
            .attr("class", "phase")
            .attr("x", d => scaleX(d[1]) + 5)
            .attr("y", top + height - 12)
            .style("font-size", "13px")
            .text(d => d[0]);

        g.append("text")
            .attr("x", x1 - 17)
            .attr("y", top + 30)
            .attr("text-anchor", "end")
            .style("font-size", "15px")
            .style("letter-spacing", "0.8px")
            .text(label);
    };
    return master;
};

function drawBand(bandIdx, left, right, domains, steps, exponents, traces, phaseSets) {
    const scaleX = d3.scaleLinear().domain(timeDomain).range([left, right]);
    const bottom = panelTop + panelH * 7;
    const cx = (left + right) / 2;

    stationLabels.forEach((label, i) => {
        TracePanel({
            scaleX,
            top: panelTop + panelH * i,
            height: panelH,
            domain: domains[i],
            step: steps[i],
            exponent: exponents[i],
            label,
            color: kindColor[stationKind[i]],
            trace: traces[i],
            phases: phaseSets[i],
            id: bandIdx + "_" + i
        }).draw();
    });

    svg.append("text")
        .attr("x", cx).attr("y", 30)
        .attr("text-anchor", "middle")
        .style("font-size", "23px")
        .attr("textLength", bandIdx === 0 ? 194 : 156)
        .attr("lengthAdjust", "spacingAndGlyphs")
        .text(bandTitles[bandIdx]);

    svg.selectAll(null).data(timeLabels).join("text")
        .attr("x", d => scaleX(d[0]) - 12)
        .attr("y", bottom + 16)
        .attr("text-anchor", "middle")
        .style("font-size", "15px")
        .text(d => d[1]);

    svg.append("text")
        .attr("x", left).attr("y", bottom + 33)
        .style("font-size", "14px")
        .style("letter-spacing", "0.6px")
        .text(xMultiplier);

    svg.append("text")
        .attr("x", cx).attr("y", 806)
        .attr("text-anchor", "middle")
        .style("font-size", "23px")
        .attr("textLength", 266)
        .attr("lengthAdjust", "spacingAndGlyphs")
        .text(xTitle);

    svg.append("text")
        .attr("transform", `translate(${left - 56},390) rotate(-90)`)
        .attr("text-anchor", "middle")
        .style("font-size", "23px")
        .attr("textLength", 232)
        .attr("lengthAdjust", "spacingAndGlyphs")
        .text(yTitle);
}

drawBand(0, 76, 675.5, lowDomains, lowTickSteps, lowExponents, lowTraces, lowPhases);
drawBand(1, 765, 1365, highDomains, highTickSteps, highExponents, highTraces, highPhases);
</script>
</body>
</html>
